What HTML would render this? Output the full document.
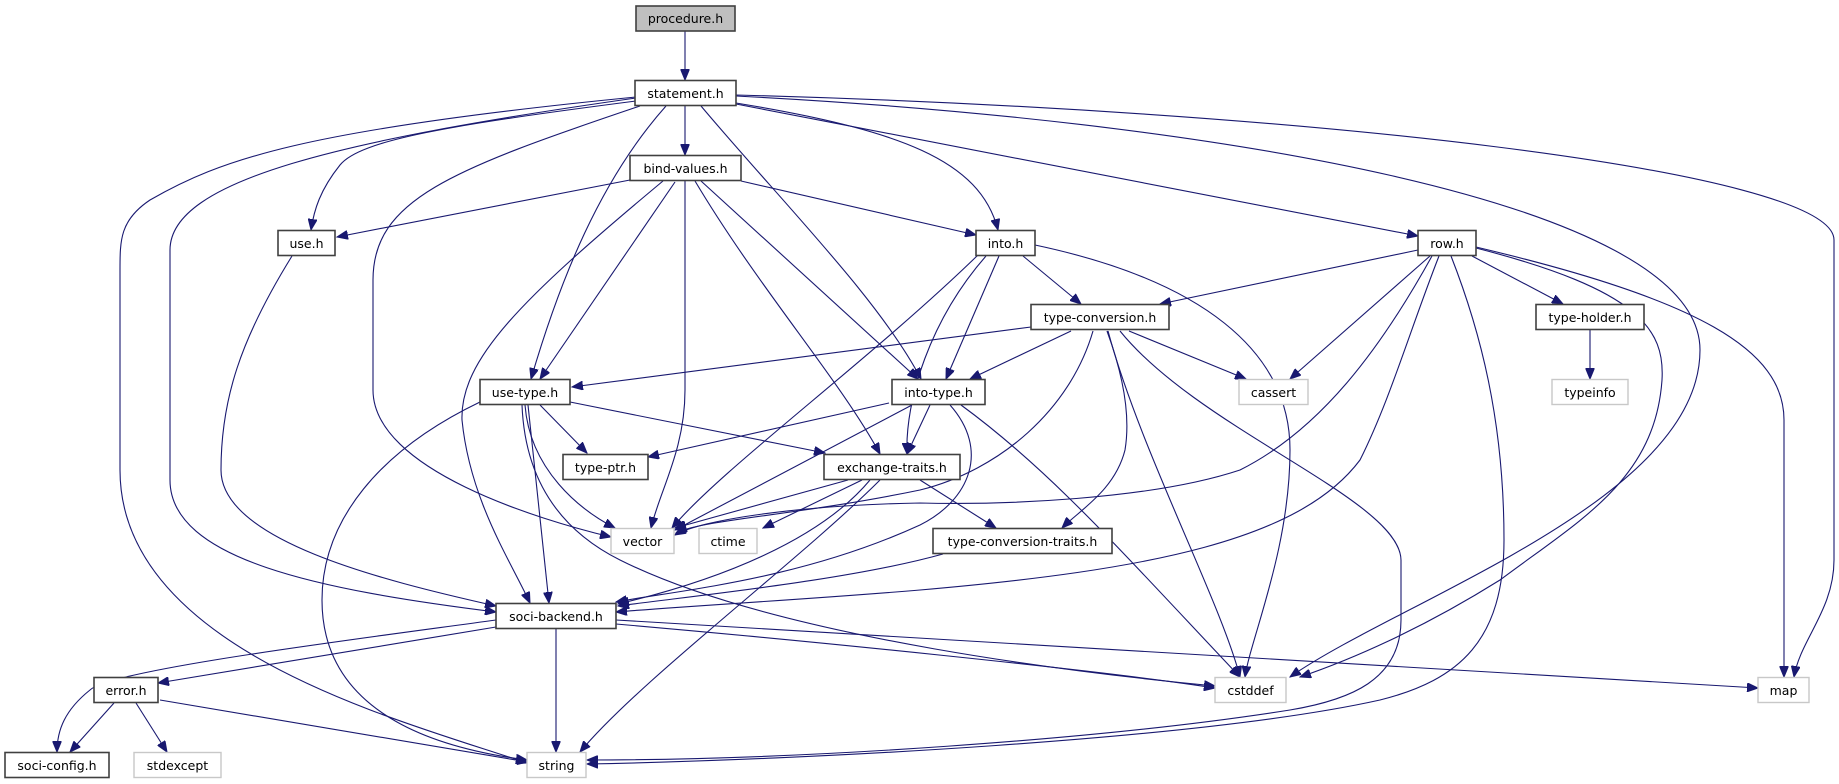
<!DOCTYPE html>
<html><head><meta charset="utf-8"><style>
html,body{margin:0;padding:0;background:#fff;}
svg{display:block;}
text{font-family:"DejaVu Sans","Liberation Sans",sans-serif;font-size:12.5px;fill:#000;}
.e{fill:none;stroke:#191970;stroke-width:1.1;marker-end:url(#a);}
.n{fill:#fff;stroke:#404040;stroke-width:1.6;}
.g{fill:#fff;stroke:#c8c8c8;stroke-width:1.4;}
</style></head><body>
<svg width="1839" height="784" viewBox="0 0 1839 784" xmlns="http://www.w3.org/2000/svg">
<defs><marker id="a" markerUnits="userSpaceOnUse" markerWidth="12" markerHeight="9" refX="11" refY="4.5" orient="auto"><path d="M0,0 L11,4.5 L0,9 z" fill="#191970" stroke="#191970"/></marker></defs>
<g>
<path class="e" d="M685,31 L685,80"/>
<path class="e" d="M685,106 L685,155"/>
<path class="e" d="M636,101 C450,125 360,140 340,165 C320,190 314,210 311,230"/>
<path class="e" d="M640,106 C450,170 373,200 373,280 L373,390 C373,470 540,520 611,537"/>
<path class="e" d="M636,98 C340,140 170,180 170,250 L170,480 C170,560 320,590 496,612"/>
<path class="e" d="M636,97 C300,130 220,160 150,200 C120,220 120,240 120,270 L120,470 C120,650 400,720 527,763"/>
<path class="e" d="M666,106 C600,180 560,280 531,379"/>
<path class="e" d="M701,106 C780,200 880,300 921,379"/>
<path class="e" d="M736,103 C900,130 980,160 998,230"/>
<path class="e" d="M736,104 L1418,236"/>
<path class="e" d="M736,96 C1200,120 1700,200 1700,350 C1700,500 1400,600 1290,677"/>
<path class="e" d="M736,95 C1300,110 1834,170 1834,240 L1834,560 C1834,610 1800,640 1794,677"/>
<path class="e" d="M630,180 L337,237"/>
<path class="e" d="M741,181 L976,235"/>
<path class="e" d="M675,182 L540,379"/>
<path class="e" d="M701,181 L918,379"/>
<path class="e" d="M695,181 C760,290 840,380 880,454"/>
<path class="e" d="M663,181 C520,300 460,360 462,420 C470,500 510,560 530,603"/>
<path class="e" d="M685,181 L685,390 C685,450 660,490 651,528"/>
<path class="e" d="M292,256 C240,340 221,400 221,470 C221,540 380,580 496,606"/>
<path class="e" d="M1023,256 L1081,304"/>
<path class="e" d="M999,256 L946,379"/>
<path class="e" d="M986,256 C930,320 905,400 907,454"/>
<path class="e" d="M978,255 C870,360 720,470 672,528"/>
<path class="e" d="M1035,245 C1200,280 1290,350 1290,450 C1290,550 1250,640 1245,677"/>
<path class="e" d="M1418,250 L1160,304"/>
<path class="e" d="M1472,256 L1563,304"/>
<path class="e" d="M1430,256 L1290,379"/>
<path class="e" d="M1476,247 C1700,300 1784,350 1784,420 L1784,677"/>
<path class="e" d="M1476,248 C1640,290 1665,330 1662,380 C1655,480 1580,520 1500,580 C1420,630 1350,660 1300,677"/>
<path class="e" d="M1439,256 C1410,330 1390,400 1360,460 C1300,540 1150,570 920,590 C800,600 700,605 616,612"/>
<path class="e" d="M1432,256 C1380,350 1320,430 1240,470 C1150,500 1000,505 920,503 C800,505 700,520 675,535"/>
<path class="e" d="M1451,256 C1480,330 1504,420 1504,540 C1504,640 1460,680 1380,700 C1200,740 800,760 587,764"/>
<path class="e" d="M1590,330 L1590,379"/>
<path class="e" d="M1031,327 L572,387"/>
<path class="e" d="M1071,331 L970,379"/>
<path class="e" d="M1129,331 L1246,379"/>
<path class="e" d="M1093,331 C1070,410 1000,470 920,490 C800,515 700,520 676,533"/>
<path class="e" d="M1107,331 C1125,380 1130,420 1125,450 C1115,490 1080,510 1062,528"/>
<path class="e" d="M1108,331 C1140,450 1220,600 1240,677"/>
<path class="e" d="M1120,331 C1200,430 1400,500 1401,560 L1401,620 C1401,680 1350,700 1290,710 C1100,740 800,760 587,760"/>
<path class="e" d="M540,405 L587,453"/>
<path class="e" d="M570,402 L825,453"/>
<path class="e" d="M525,405 C530,470 580,510 615,528"/>
<path class="e" d="M528,405 L549,603"/>
<path class="e" d="M480,402 C380,450 322,520 322,600 C322,720 450,750 527,760"/>
<path class="e" d="M522,405 C525,480 560,530 620,560 C780,640 1100,675 1215,686"/>
<path class="e" d="M889,403 L648,457"/>
<path class="e" d="M930,405 L907,454"/>
<path class="e" d="M912,405 L675,530"/>
<path class="e" d="M950,405 C990,450 970,500 920,525 C800,580 680,590 616,602"/>
<path class="e" d="M961,405 C1050,470 1120,550 1240,677"/>
<path class="e" d="M848,480 L675,528"/>
<path class="e" d="M862,480 L763,528"/>
<path class="e" d="M920,480 L996,528"/>
<path class="e" d="M870,480 C820,540 720,580 618,604"/>
<path class="e" d="M880,480 C800,560 640,680 580,752"/>
<path class="e" d="M943,554 C850,580 700,595 618,606"/>
<path class="e" d="M496,627 L158,683"/>
<path class="e" d="M496,620 C350,640 110,670 90,690 C65,710 57,730 57,752"/>
<path class="e" d="M556,629 L556,752"/>
<path class="e" d="M616,624 C800,640 1100,670 1215,688"/>
<path class="e" d="M616,620 L1758,688"/>
<path class="e" d="M114,703 L70,752"/>
<path class="e" d="M136,703 L167,752"/>
<path class="e" d="M160,700 L528,762"/>
</g>
<g>
<rect x="636" y="6" width="99" height="25" fill="#bfbfbf" stroke="#404040" stroke-width="1.6"/><text x="685.5" y="23" text-anchor="middle">procedure.h</text>
<rect class="n" x="635" y="80.5" width="101" height="25"/><text x="685.5" y="98" text-anchor="middle">statement.h</text>
<rect class="n" x="630" y="155.5" width="111" height="25"/><text x="685.5" y="173" text-anchor="middle">bind-values.h</text>
<rect class="n" x="278" y="230.5" width="57" height="25"/><text x="306.5" y="248" text-anchor="middle">use.h</text>
<rect class="n" x="976" y="230.5" width="59" height="25"/><text x="1005.5" y="248" text-anchor="middle">into.h</text>
<rect class="n" x="1418" y="230.5" width="58" height="25"/><text x="1447" y="248" text-anchor="middle">row.h</text>
<rect class="n" x="1031" y="304.5" width="138" height="25"/><text x="1100" y="322" text-anchor="middle">type-conversion.h</text>
<rect class="n" x="1536" y="304.5" width="108" height="25"/><text x="1590" y="322" text-anchor="middle">type-holder.h</text>
<rect class="n" x="480" y="379.5" width="90" height="25"/><text x="525" y="397" text-anchor="middle">use-type.h</text>
<rect class="n" x="892" y="379.5" width="93" height="25"/><text x="938.5" y="397" text-anchor="middle">into-type.h</text>
<rect class="g" x="1239" y="379.5" width="69" height="25"/><text x="1273.5" y="397" text-anchor="middle">cassert</text>
<rect class="g" x="1552" y="379.5" width="76" height="25"/><text x="1590" y="397" text-anchor="middle">typeinfo</text>
<rect class="n" x="563" y="454.5" width="85" height="25"/><text x="605.5" y="472" text-anchor="middle">type-ptr.h</text>
<rect class="n" x="824" y="454.5" width="136" height="25"/><text x="892" y="472" text-anchor="middle">exchange-traits.h</text>
<rect class="g" x="611" y="528.5" width="63" height="25"/><text x="642.5" y="546" text-anchor="middle">vector</text>
<rect class="g" x="699" y="528.5" width="58" height="25"/><text x="728" y="546" text-anchor="middle">ctime</text>
<rect class="n" x="933" y="528.5" width="179" height="25"/><text x="1022.5" y="546" text-anchor="middle">type-conversion-traits.h</text>
<rect class="n" x="496" y="603.5" width="120" height="25"/><text x="556" y="621" text-anchor="middle">soci-backend.h</text>
<rect class="n" x="94" y="677.5" width="64" height="25"/><text x="126" y="695" text-anchor="middle">error.h</text>
<rect class="g" x="1215" y="677.5" width="71" height="25"/><text x="1250.5" y="695" text-anchor="middle">cstddef</text>
<rect class="g" x="1758" y="677.5" width="51" height="25"/><text x="1783.5" y="695" text-anchor="middle">map</text>
<rect class="n" x="5" y="752.5" width="104" height="25"/><text x="57" y="770" text-anchor="middle">soci-config.h</text>
<rect class="g" x="134" y="752.5" width="87" height="25"/><text x="177.5" y="770" text-anchor="middle">stdexcept</text>
<rect class="g" x="527" y="752.5" width="59" height="25"/><text x="556.5" y="770" text-anchor="middle">string</text>
</g>
</svg>
</body></html>
